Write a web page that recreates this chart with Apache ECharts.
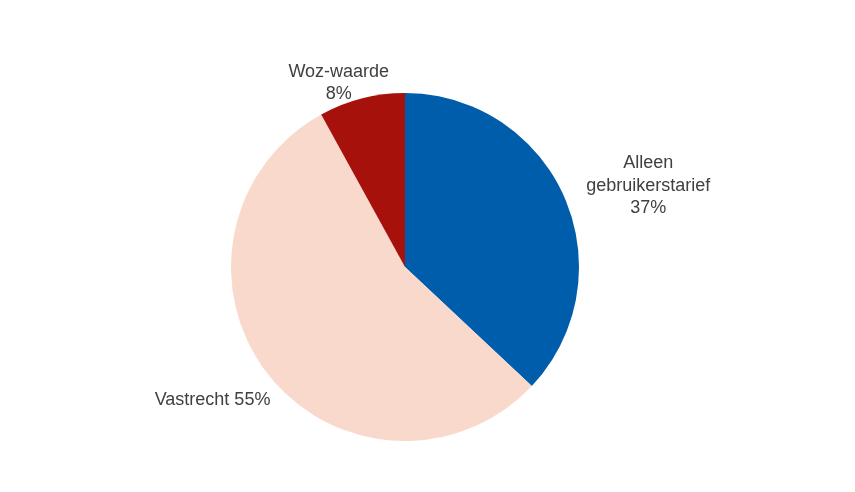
<!DOCTYPE html>
<html>
<head>
<meta charset="utf-8">
<script src="https://cdn.jsdelivr.net/npm/echarts@6/dist/echarts.min.js"></script>
<style>
  html, body { margin: 0; padding: 0; background: #ffffff; }
  #chart { width: 855px; height: 492px; }
</style>
</head>
<body>
<div id="chart"></div>
<script>
const categories = ['Alleen\ngebruikerstarief', 'Vastrecht', 'Woz-waarde'];
const values = [37, 55, 8];
const colors = ['#005DAC', '#F9D9CC', '#A6110B'];
const labelSeparators = ['\n', ' ', '\n'];
const lineLengths = [[30, 51], [43, 16], [16, 14]];

const data = categories.map((name, i) => ({
  name: name,
  value: values[i],
  itemStyle: { color: colors[i] },
  label: { formatter: name + labelSeparators[i] + values[i] + '%' },
  labelLine: { show: false, length: lineLengths[i][0], length2: lineLengths[i][1] }
}));

const chart = echarts.init(document.getElementById('chart'), null, { renderer: 'canvas' });
chart.setOption({
  backgroundColor: '#ffffff',
  animation: false,
  series: [{
    type: 'pie',
    center: [405, 267],
    radius: 174,
    startAngle: 90,
    clockwise: true,
    avoidLabelOverlap: false,
    itemStyle: { borderWidth: 0 },
    label: {
      show: true,
      position: 'outside',
      color: '#404040',
      fontFamily: '"Liberation Sans", Arial, sans-serif',
      fontSize: 18,
      lineHeight: 22.5,
      align: 'center'
    },
    labelLayout: { align: 'center' },
    emphasis: { disabled: true },
    data: data
  }]
});
</script>
</body>
</html>
